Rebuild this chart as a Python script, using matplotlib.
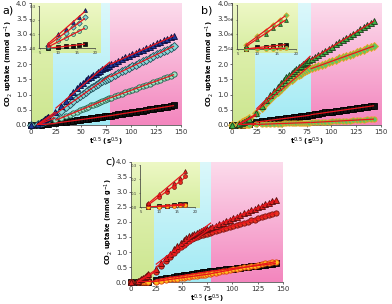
import numpy as np
import matplotlib

matplotlib.use("Agg")
import matplotlib.pyplot as plt  # noqa: E402
from matplotlib.colors import LinearSegmentedColormap  # noqa: E402

# shared sqrt(t) grid: origin, green stage, cyan stage, pink stage
sqrt_t = [0, 7.1, 10.0, 12.2, 14.1, 15.8, 17.3,
          24.5, 30.0, 34.6, 38.7, 42.4, 45.8, 49.0, 52.0, 54.8, 57.4, 60.0, 62.4, 64.8,
          67.1, 69.3, 71.4, 73.5, 75.5, 77.5,
          80.0, 83.5, 87.0, 90.5, 94.0, 97.5, 101.0, 104.5, 108.0, 111.5, 115.0, 118.5,
          122.0, 125.5, 129.0, 132.5, 136.0, 139.5, 143.0]

# panel a
a_tri = [0, 0.03, 0.10, 0.14, 0.19, 0.22, 0.27,
         0.42, 0.62, 0.80, 0.96, 1.09, 1.20, 1.30, 1.39, 1.47, 1.53, 1.59, 1.64, 1.69, 1.74, 1.79, 1.83, 1.87, 1.91, 1.95,
         2.00, 2.05, 2.11, 2.16, 2.22, 2.27, 2.32, 2.37, 2.43, 2.48, 2.53, 2.58, 2.63, 2.68, 2.73, 2.78, 2.83, 2.88, 2.93]
a_dia = [0, 0.02, 0.08, 0.11, 0.15, 0.18, 0.22,
         0.33, 0.46, 0.58, 0.69, 0.79, 0.88, 0.96, 1.03, 1.09, 1.15, 1.21, 1.26, 1.31, 1.36, 1.40, 1.44, 1.48, 1.52, 1.55,
         1.59, 1.65, 1.70, 1.76, 1.81, 1.87, 1.93, 1.98, 2.04, 2.09, 2.15, 2.20, 2.26, 2.32, 2.37, 2.43, 2.48, 2.54, 2.60]
a_cir = [0, 0.01, 0.05, 0.07, 0.10, 0.12, 0.15,
         0.15, 0.23, 0.29, 0.34, 0.40, 0.44, 0.49, 0.53, 0.57, 0.60, 0.64, 0.67, 0.70, 0.73, 0.76, 0.79, 0.82, 0.85, 0.88,
         0.90, 0.94, 0.98, 1.03, 1.07, 1.11, 1.15, 1.19, 1.24, 1.28, 1.32, 1.36, 1.40, 1.45, 1.49, 1.53, 1.57, 1.62, 1.66]
a_sq = [0, 0.00, 0.01, 0.015, 0.02, 0.025, 0.03,
        0.06, 0.085, 0.105, 0.125, 0.14, 0.155, 0.17, 0.185, 0.195, 0.21, 0.22, 0.23, 0.24, 0.255, 0.265, 0.275, 0.28, 0.29, 0.30,
        0.31, 0.33, 0.35, 0.36, 0.38, 0.40, 0.42, 0.44, 0.46, 0.47, 0.49, 0.51, 0.53, 0.55, 0.57, 0.58, 0.60, 0.62, 0.64]

# panel b
b_tri = [0, 0.02, 0.07, 0.10, 0.14, 0.17, 0.20,
         0.40, 0.62, 0.82, 0.99, 1.13, 1.26, 1.38, 1.48, 1.57, 1.65, 1.72, 1.78, 1.84, 1.90, 1.95, 2.00, 2.04, 2.08, 2.12,
         2.16, 2.23, 2.30, 2.37, 2.44, 2.51, 2.58, 2.65, 2.72, 2.79, 2.86, 2.93, 3.00, 3.07, 3.14, 3.21, 3.28, 3.35, 3.42]
b_dia = [0, 0.03, 0.09, 0.12, 0.16, 0.20, 0.23,
         0.38, 0.55, 0.71, 0.85, 0.98, 1.09, 1.19, 1.28, 1.36, 1.43, 1.49, 1.55, 1.60, 1.65, 1.69, 1.73, 1.77, 1.80, 1.84,
         1.86, 1.90, 1.94, 1.98, 2.02, 2.06, 2.10, 2.14, 2.19, 2.23, 2.27, 2.31, 2.35, 2.39, 2.43, 2.47, 2.52, 2.56, 2.60]
b_sq = [0, 0.00, 0.01, 0.015, 0.02, 0.025, 0.03,
        0.10, 0.12, 0.14, 0.16, 0.17, 0.18, 0.19, 0.21, 0.22, 0.23, 0.24, 0.25, 0.26, 0.27, 0.28, 0.29, 0.30, 0.31, 0.33,
        0.34, 0.36, 0.37, 0.39, 0.41, 0.42, 0.44, 0.45, 0.47, 0.49, 0.50, 0.52, 0.54, 0.55, 0.57, 0.58, 0.60, 0.62, 0.63]
b_cir = [0, 0.0, 0.0, 0.002, 0.003, 0.004, 0.005,
         0.02, 0.025, 0.03, 0.03, 0.035, 0.04, 0.045, 0.05, 0.05, 0.055, 0.06, 0.06, 0.065, 0.07, 0.07, 0.075, 0.075, 0.08, 0.08,
         0.085, 0.09, 0.095, 0.10, 0.105, 0.11, 0.115, 0.12, 0.13, 0.135, 0.14, 0.145, 0.15, 0.16, 0.165, 0.17, 0.18, 0.19, 0.20]

# panel c
c_tri = [0, 0.03, 0.09, 0.13, 0.17, 0.21, 0.26,
         0.42, 0.62, 0.80, 0.95, 1.09, 1.20, 1.30, 1.39, 1.46, 1.52, 1.57, 1.61, 1.64, 1.67, 1.70, 1.73, 1.75, 1.78, 1.80,
         1.83, 1.88, 1.93, 1.98, 2.03, 2.08, 2.13, 2.18, 2.23, 2.28, 2.33, 2.38, 2.43, 2.48, 2.53, 2.58, 2.63, 2.68, 2.73]
c_cir = [0, 0.02, 0.07, 0.11, 0.14, 0.18, 0.22,
         0.35, 0.53, 0.69, 0.83, 0.96, 1.07, 1.16, 1.24, 1.31, 1.37, 1.42, 1.46, 1.49, 1.52, 1.55, 1.57, 1.59, 1.61, 1.63,
         1.65, 1.69, 1.72, 1.76, 1.79, 1.83, 1.87, 1.90, 1.94, 1.97, 2.01, 2.05, 2.08, 2.12, 2.15, 2.19, 2.23, 2.26, 2.30]
c_sq = [0, 0.0, 0.005, 0.01, 0.015, 0.02, 0.02,
        0.08, 0.11, 0.13, 0.15, 0.17, 0.19, 0.21, 0.22, 0.24, 0.25, 0.26, 0.28, 0.29, 0.30, 0.31, 0.33, 0.34, 0.35, 0.36,
        0.37, 0.38, 0.40, 0.41, 0.43, 0.44, 0.45, 0.47, 0.48, 0.50, 0.51, 0.52, 0.54, 0.55, 0.57, 0.58, 0.59, 0.61, 0.62]
c_org = [0, 0.0, 0.002, 0.005, 0.008, 0.012, 0.015,
         0.02, 0.05, 0.07, 0.09, 0.11, 0.12, 0.14, 0.15, 0.17, 0.18, 0.19, 0.20, 0.21, 0.22, 0.23, 0.24, 0.25, 0.26, 0.27,
         0.29, 0.31, 0.33, 0.36, 0.38, 0.40, 0.42, 0.44, 0.46, 0.49, 0.51, 0.53, 0.55, 0.57, 0.59, 0.62, 0.64, 0.66, 0.68]

x_ticks = [0, 25, 50, 75, 100, 125, 150]
y_ticks = [0.0, 0.5, 1.0, 1.5, 2.0, 2.5, 3.0, 3.5, 4.0]
in_x_ticks = [5, 10, 15, 20]
in_y_ticks = [0.0, 0.1, 0.2, 0.3]

GREEN = slice(1, 7)
CYAN = slice(7, 26)
PINK = slice(26, 45)
FIT = "#e8141c"


def grad(ax, x0, x1, y0, y1, bottom, top, z):
    cmap = LinearSegmentedColormap.from_list("g", [bottom, top])
    ax.imshow(np.linspace(0, 1, 64).reshape(-1, 1), cmap=cmap, origin="lower",
              extent=[x0, x1, y0, y1], aspect="auto", zorder=z, interpolation="bilinear")


def seg_fit(ax, x, y, sl, xs, lw):
    k, b = np.polyfit(x[sl], y[sl], 1)
    xs = np.asarray(xs)
    ax.plot(xs, k * xs + b, color=FIT, lw=lw, zorder=4, solid_capstyle="butt")


def panel(fig, rect, in_rect, series, edges, box, label, label_xy):
    x = np.asarray(sqrt_t)
    ax = fig.add_axes(rect)
    g1, g2 = edges
    grad(ax, 0, g1, 0, 4, "#cce690", "#e8f5bc", 0)
    grad(ax, g1, g2, 0, 4, "#a2eaf4", "#dcf8fb", 0)
    grad(ax, g2, 150, 0, 4, "#f386be", "#fcdcec", 0)
    grad(ax, 0, box[0], box[1], 4, "#d6eda0", "#eef8c6", 1)
    for y, m, fc, ec in series:
        y = np.asarray(y)
        ax.plot(x, y, ls="none", marker=m, ms=3.8, mfc=fc, mec=ec, mew=0.6,
                zorder=3, clip_on=False)
        seg_fit(ax, x, y, GREEN, [6.0, 24.5], 0.9)
        seg_fit(ax, x, y, CYAN, [24.5, 79.0], 0.9)
        seg_fit(ax, x, y, PINK, [79.0, 143.0], 0.9)
    ax.set_xlim(0, 150)
    ax.set_ylim(0, 4)
    ax.set_xticks(x_ticks)
    ax.set_yticks(y_ticks)
    ax.set_yticklabels([f"{v:.1f}" for v in y_ticks])
    ax.tick_params(labelsize=5, length=1.5, width=0.5, pad=1.2, colors="#333333")
    for s in ("top", "right"):
        ax.spines[s].set_visible(False)
    for s in ("left", "bottom"):
        ax.spines[s].set_linewidth(0.6)
        ax.spines[s].set_color("#555555")
    ax.set_xlabel("t$^{0.5}$ (s$^{0.5}$)", fontsize=5, fontweight="bold", labelpad=0.5)
    ax.set_ylabel("CO$_2$ uptake (mmol g$^{-1}$)", fontsize=4.8, fontweight="bold", labelpad=1)
    fig.text(label_xy[0], label_xy[1], label, fontsize=8)

    ins = fig.add_axes(in_rect)
    ins.patch.set_alpha(0)
    for y, m, fc, ec in series:
        y = np.asarray(y)
        ins.plot(x[GREEN], y[GREEN], ls="none", marker=m, ms=2.8, mfc=fc, mec=ec,
                 mew=0.5, zorder=3, clip_on=False)
        seg_fit(ins, x, y, GREEN, [7.0, 17.3], 0.9)
    ins.set_xlim(4.8, 20)
    ins.set_ylim(0, 0.3)
    ins.set_xticks(in_x_ticks)
    ins.set_yticks(in_y_ticks)
    ins.set_yticklabels([f"{v:.1f}" for v in in_y_ticks])
    ins.tick_params(labelsize=2.8, length=1, width=0.4, pad=1, colors="#333333")
    for s in ("top", "right"):
        ins.spines[s].set_visible(False)
    for s in ("left", "bottom"):
        ins.spines[s].set_linewidth(0.5)
        ins.spines[s].set_color("#333333")
    return ax


fig = plt.figure(figsize=(3.92, 3.04), dpi=100)

panel(fig, [0.079, 0.589, 0.383, 0.400], [0.100, 0.841, 0.142, 0.139],
      [(a_sq, "s", "#111111", "#000000"),
       (a_cir, "o", "#9fe3c4", "#1f5f4a"),
       (a_dia, "D", "#88d8d8", "#1f4f5a"),
       (a_tri, "^", "#1f3a9a", "#0a0a3a")],
      (22.5, 79.0), (69, 2.37), "a)", (0.005, 0.955))

panel(fig, [0.592, 0.589, 0.380, 0.400], [0.605, 0.839, 0.150, 0.145],
      [(b_sq, "s", "#111111", "#000000"),
       (b_cir, "o", "#5cc860", "#f0a020"),
       (b_dia, "D", "#5cc860", "#f0a020"),
       (b_tri, "^", "#3fae45", "#1a3a1a")],
      (23.5, 79.5), (66, 2.37), "b)", (0.513, 0.955))

panel(fig, [0.334, 0.072, 0.388, 0.396], [0.357, 0.319, 0.140, 0.138],
      [(c_sq, "s", "#111111", "#000000"),
       (c_org, "o", "#ffc020", "#e04010"),
       (c_cir, "o", "#e83020", "#7a1010"),
       (c_tri, "^", "#e02020", "#5a0a0a")],
      (22.7, 79.0), (68, 2.47), "c)", (0.268, 0.46))

fig.savefig("out.png", dpi=100)
